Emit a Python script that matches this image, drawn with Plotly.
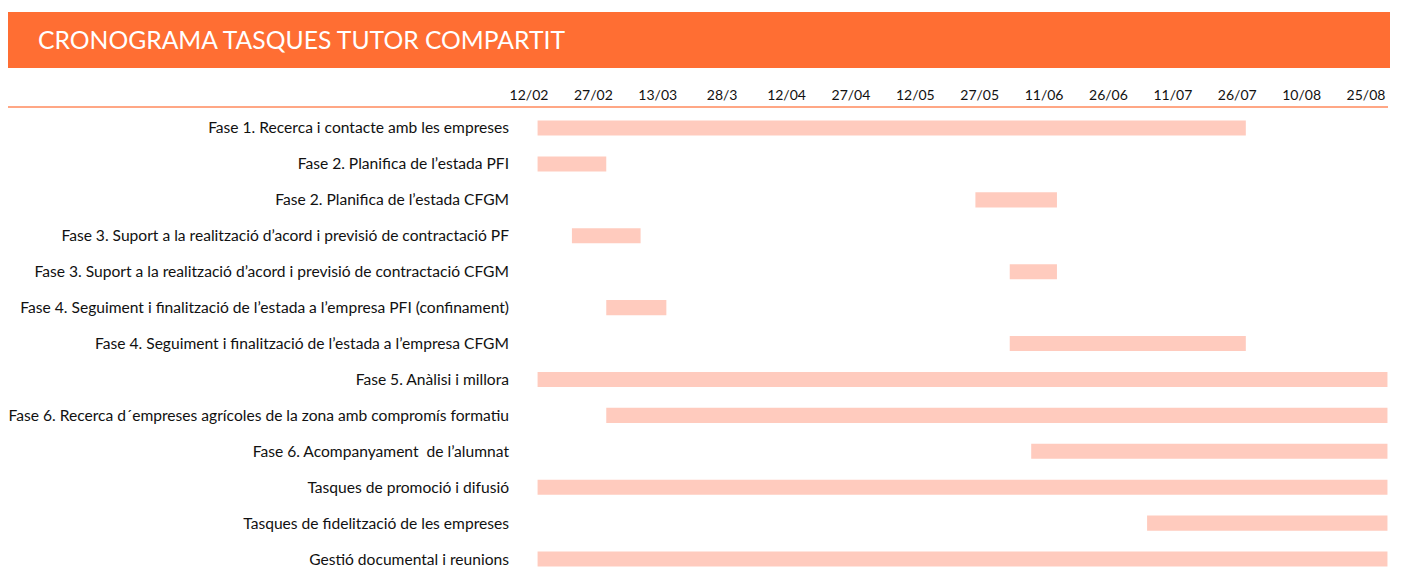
import pandas as pd
import plotly.graph_objects as go

tasks = [
    "Fase 1. Recerca i contacte amb les empreses",
    "Fase 2. Planifica de l’estada PFI",
    "Fase 2. Planifica de l’estada CFGM",
    "Fase 3. Suport a la realització d’acord i previsió de contractació PF",
    "Fase 3. Suport a la realització d’acord i previsió de contractació CFGM",
    "Fase 4. Seguiment i finalització de l’estada a l’empresa PFI (confinament)",
    "Fase 4. Seguiment i finalització de l’estada a l’empresa CFGM",
    "Fase 5. Anàlisi i millora",
    "Fase 6. Recerca d´empreses agrícoles de la zona amb compromís formatiu",
    "Fase 6. Acompanyament \u00a0de l’alumnat",
    "Tasques de promoció i difusió",
    "Tasques de fidelització de les empreses",
    "Gestió documental i reunions",
]
starts = ["2020-02-14", "2020-02-14", "2020-05-26", "2020-02-22", "2020-06-03",
          "2020-03-01", "2020-06-03", "2020-02-14", "2020-03-01", "2020-06-08",
          "2020-02-14", "2020-07-05", "2020-02-14"]
ends = ["2020-07-28", "2020-03-01", "2020-06-14", "2020-03-09", "2020-06-14",
        "2020-03-15", "2020-07-28", "2020-08-30", "2020-08-30", "2020-08-30",
        "2020-08-30", "2020-08-30", "2020-08-30"]
tick_dates = ["2020-02-12", "2020-02-27", "2020-03-13", "2020-03-28", "2020-04-12",
              "2020-04-27", "2020-05-12", "2020-05-27", "2020-06-11", "2020-06-26",
              "2020-07-11", "2020-07-26", "2020-08-10", "2020-08-25"]
tick_labels = ["12/02", "27/02", "13/03", "28/3", "12/04", "27/04", "12/05",
               "27/05", "11/06", "26/06", "11/07", "26/07", "10/08", "25/08"]

OFF = 8  # page body margin
W, H = 1402 - OFF, 574 - OFF
ML, MR, MT, MB = 512 - OFF, 0, 110 - OFF, 0
PW, PH = W - ML - MR, H - MT - MB

# pixel mapping (in screenshot coordinates) of time axis
x0_px, day_px = 529.0, 837.0 / 195.0
t0 = pd.Timestamp("2020-02-12")
left = t0 + pd.Timedelta(days=(ML + OFF - x0_px) / day_px)
right = t0 + pd.Timedelta(days=(W + OFF - MR - x0_px) / day_px)

row0_px, row_px = 128.0, 35.92
y_top = (MT + OFF - row0_px) / row_px
y_bot = (H + OFF - MB - row0_px) / row_px

s = pd.to_datetime(starts)
e = pd.to_datetime(ends)
dur_ms = [(b - a).total_seconds() * 1000 for a, b in zip(s, e)]

fig = go.Figure(go.Bar(
    y=tasks, x=dur_ms, base=[str(d) for d in s], orientation="h",
    marker=dict(color="#FFCBBE", line=dict(width=0)), width=0.42,
    hoverinfo="skip",
))

def px_x(p):
    return (p - OFF - ML) / PW

def px_y(p):
    return (H - MB - (p - OFF)) / PH

fig.add_shape(type="rect", xref="paper", yref="paper",
              x0=px_x(6), x1=px_x(1390), y0=px_y(68), y1=px_y(12),
              fillcolor="#FF6E33", line=dict(width=0), layer="below")
fig.add_shape(type="line", xref="paper", yref="paper",
              x0=px_x(6), x1=px_x(1388), y0=px_y(107), y1=px_y(107),
              line=dict(color="#FF8A5C", width=1.5))
fig.add_annotation(text="CRONOGRAMA TASQUES TUTOR COMPARTIT", xref="paper", yref="paper",
                   x=px_x(36), y=px_y(40), xanchor="left", yanchor="middle",
                   showarrow=False, font=dict(family="Lato", size=24.7, color="white"))

fig.update_layout(
    width=W, height=H, margin=dict(l=ML, r=MR, t=MT, b=MB, pad=0),
    plot_bgcolor="white", paper_bgcolor="white", showlegend=False,
    font=dict(family="Lato", size=14, color="#111111"),
    xaxis=dict(type="date", side="top", range=[str(left), str(right)],
               tickvals=tick_dates, ticktext=tick_labels, showgrid=False,
               zeroline=False, showline=False, ticks="", ticklabelstandoff=6,
               tickfont=dict(size=14)),
    yaxis=dict(type="category", categoryorder="array", categoryarray=tasks,
               range=[y_bot, y_top], showgrid=False, zeroline=False,
               showline=False, ticks="", ticklabelstandoff=2,
               tickfont=dict(size=15.6)),
)
fig.write_html("out.html")
